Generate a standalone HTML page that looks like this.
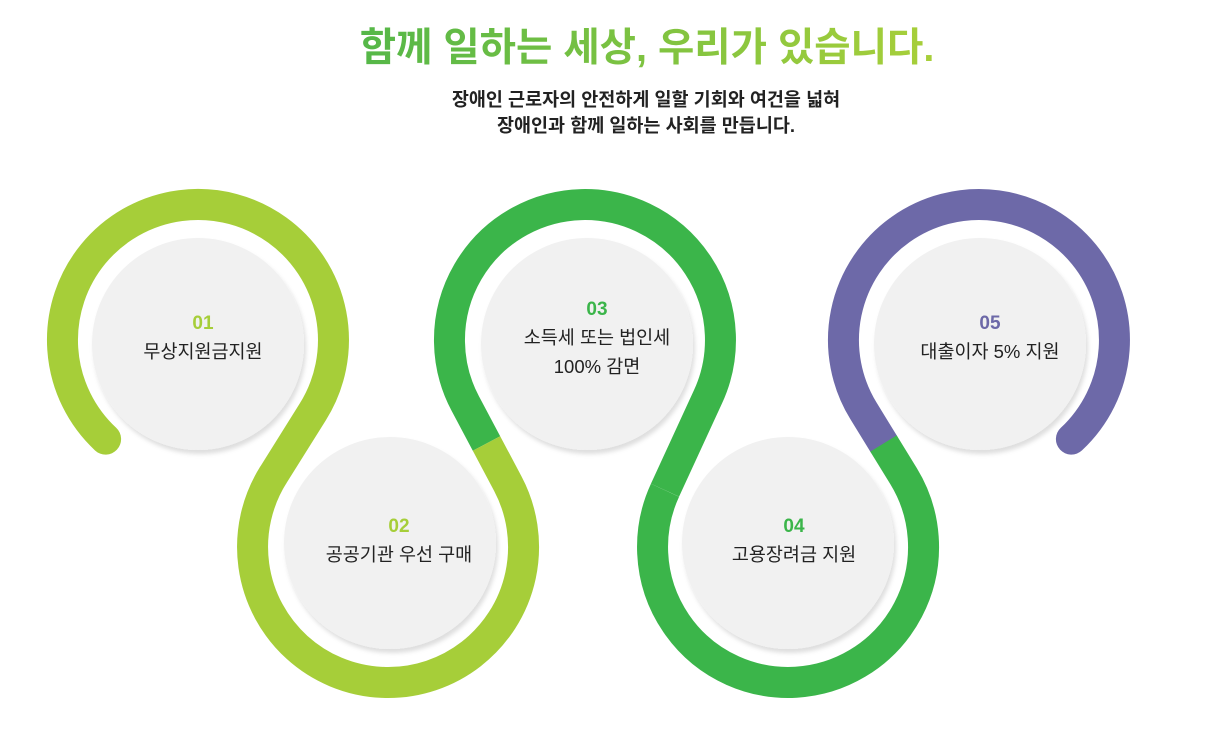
<!DOCTYPE html>
<html><head><meta charset="utf-8"><style>
html,body{margin:0;padding:0;background:#fff;}
svg{display:block;}
text{font-family:"Liberation Sans","Noto Sans CJK KR",sans-serif;}
</style></head><body>
<svg width="1217" height="755" viewBox="0 0 1217 755" xmlns="http://www.w3.org/2000/svg">
<defs>
<linearGradient id="tg" x1="0" x2="1" y1="0" y2="0"><stop offset="0" stop-color="#55b748"/><stop offset="1" stop-color="#a8cf3a"/></linearGradient>
<filter id="sh" x="-20%" y="-20%" width="140%" height="140%"><feDropShadow dx="2" dy="4" stdDeviation="2" flood-color="#000" flood-opacity="0.13"/></filter>
</defs>
<text x="647" y="61" text-anchor="middle" font-size="39.5" font-weight="bold" fill="url(#tg)">함께 일하는 세상, 우리가 있습니다.</text>
<text x="646" y="106" text-anchor="middle" font-size="18.5" font-weight="bold" fill="#222">장애인 근로자의 안전하게 일할 기회와 여건을 넓혀</text>
<text x="646" y="132" text-anchor="middle" font-size="18.5" font-weight="bold" fill="#222">장애인과 함께 일하는 사회를 만듭니다.</text>

<g fill="none" stroke-width="31" stroke-linejoin="round">
<path d="M105.6,439.1 A135.5,135.5 0 1 1 312.6,412.2 L273.4,474.8" stroke="#a6ce39" stroke-linecap="round"/>
<path d="M486.5,443.5 L465.2,403.4 A135.5,135.5 0 1 1 708,396.8 L665,490.2" stroke="#3bb54a"/>
<path d="M883.5,443.5 L863.4,410.8 A135.5,135.5 0 1 1 1071.4,439.1" stroke="#6d69a8" stroke-linecap="round"/>
<path d="M273.4,474.8 A135.5,135.5 0 1 0 507.8,483.6 L486.5,443.5" stroke="#a6ce39"/>
<path d="M665,490.2 A135.5,135.5 0 1 0 903.6,476.2 L883.5,443.5" stroke="#3bb54a"/>
</g>

<g fill="#f1f1f1" filter="url(#sh)">
<circle cx="198" cy="344" r="106"/>
<circle cx="390" cy="543" r="106"/>
<circle cx="587" cy="344" r="106"/>
<circle cx="788" cy="543" r="106"/>
<circle cx="980" cy="344" r="106"/>
</g>

<g text-anchor="middle" font-size="19" font-weight="bold">
<text x="203" y="329" fill="#a6ce39">01</text>
<text x="399" y="532" fill="#a6ce39">02</text>
<text x="597" y="315" fill="#3bb54a">03</text>
<text x="794" y="532" fill="#3bb54a">04</text>
<text x="990" y="329" fill="#6d69a8">05</text>
</g>
<g text-anchor="middle" font-size="18.5" fill="#222">
<text x="203" y="358">무상지원금지원</text>
<text x="399" y="561">공공기관 우선 구매</text>
<text x="597" y="344">소득세 또는 법인세</text>
<text x="597" y="373">100% 감면</text>
<text x="794" y="561">고용장려금 지원</text>
<text x="990" y="358">대출이자 5% 지원</text>
</g>
</svg>
</body></html>
